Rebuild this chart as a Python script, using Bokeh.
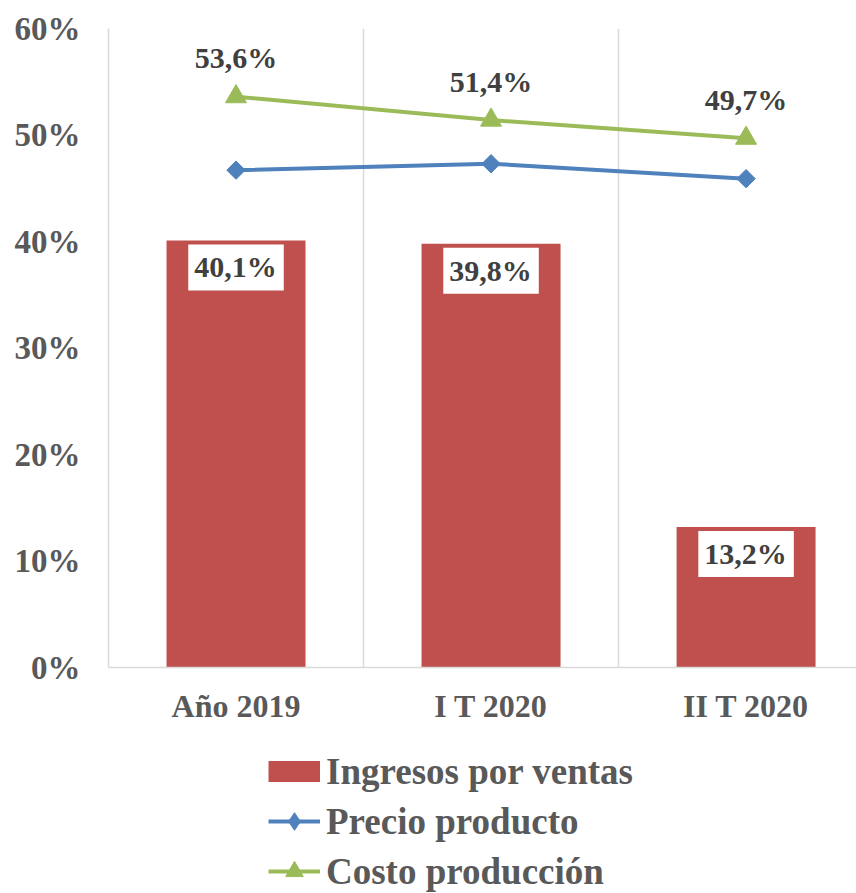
import numpy as np
from bokeh.plotting import figure
from bokeh.layouts import column
from bokeh.models import Range1d, FixedTicker, PrintfTickFormatter, Legend, LegendItem
from bokeh.core.properties import value
from bokeh.embed import file_html
from bokeh.resources import INLINE

categories = ["Año 2019", "I T 2020", "II T 2020"]
ingresos = [40.1, 39.8, 13.2]
precio = [46.7, 47.3, 45.9]
costo = [53.6, 51.4, 49.7]
y_ticks = [0, 10, 20, 30, 40, 50, 60]
series_names = ["Ingresos por ventas", "Precio producto", "Costo producción"]

RED = "#C0504D"
BLUE = "#4F81BD"
GREEN = "#9BBB59"
GRID = "#D9D9D9"
TICK = "#595959"
LABEL = "#404040"
FONT = "Liberation Serif"

x = [i + 0.5 for i in range(len(categories))]


def fmt(v):
    return f"{v:.1f}".replace(".", ",") + "%"


MAIN_H = 729
p = figure(width=856, height=MAIN_H, output_backend="svg", toolbar_location=None,
           x_range=Range1d(0, 2.933), y_range=Range1d(0, 60),
           min_border_left=108, min_border_right=0, min_border_top=28,
           min_border_bottom=MAIN_H - 667)
p.outline_line_color = None
p.ygrid.visible = False
p.xgrid.ticker = FixedTicker(ticks=[0, 1, 2, 3])
p.xgrid.grid_line_color = GRID
p.xgrid.grid_line_width = 1.5

p.vbar(x=x, top=ingresos, width=0.545, fill_color=RED, line_color=None)
p.line(x, precio, line_width=4, line_color=BLUE)
p.scatter(x, precio, marker="square", angle=np.pi / 4, size=13,
          fill_color=BLUE, line_color=BLUE)
p.line(x, costo, line_width=4, line_color=GREEN)
p.scatter(x, costo, marker="triangle", size=21, fill_color=GREEN, line_color=GREEN)

# bar labels with white boxes
p.text(x=x, y=ingresos, text=[fmt(v) for v in ingresos], y_offset=27,
       text_align="center", text_baseline="middle",
       text_font=value(FONT), text_font_style="bold", text_font_size="30px",
       text_color=LABEL, background_fill_color="white", padding=[6, 7, 6, 7])
# costo labels above markers
p.text(x=x, y=costo, text=[fmt(v) for v in costo], y_offset=-39,
       text_align="center", text_baseline="middle",
       text_font=value(FONT), text_font_style="bold", text_font_size="30px",
       text_color=LABEL)

# axes
p.yaxis.ticker = FixedTicker(ticks=y_ticks)
p.yaxis.formatter = PrintfTickFormatter(format="%d%%")
p.yaxis.axis_line_color = GRID
p.yaxis.axis_line_width = 1.5
p.yaxis.major_tick_line_color = None
p.yaxis.minor_tick_line_color = None
p.yaxis.major_label_standoff = 22
p.yaxis.major_label_text_font_size = "33px"

p.xaxis.ticker = FixedTicker(ticks=x)
p.xaxis.major_label_overrides = {xi: c for xi, c in zip(x, categories)}
p.xaxis.axis_line_color = GRID
p.xaxis.axis_line_width = 1.5
p.xaxis.major_tick_line_color = None
p.xaxis.minor_tick_line_color = None
p.xaxis.major_label_standoff = 14
p.xaxis.major_label_text_font_size = "32px"

for ax in (p.xaxis[0], p.yaxis[0]):
    ax.major_label_text_font = FONT
    ax.major_label_text_font_style = "bold"
    ax.major_label_text_color = TICK

# legend strip below the chart (series drawn out of its visible range,
# only their legend swatches show)
LEG_H = 893 - MAIN_H
pl = figure(width=856, height=LEG_H, output_backend="svg", toolbar_location=None,
            x_range=Range1d(0, 1), y_range=Range1d(0, 1),
            x_axis_location=None, y_axis_location=None,
            min_border=0, min_border_left=108)
pl.outline_line_color = None
pl.grid.visible = False
g1 = pl.line(x, ingresos, line_width=21, line_color=RED)
g2a = pl.line(x, precio, line_width=4, line_color=BLUE)
g2b = pl.scatter(x, precio, marker="diamond", fill_color=BLUE, line_color=BLUE)
g3a = pl.line(x, costo, line_width=4, line_color=GREEN)
g3b = pl.scatter(x, costo, marker="triangle", fill_color=GREEN, line_color=GREEN)

legend = Legend(items=[
    LegendItem(label=series_names[0], renderers=[g1]),
    LegendItem(label=series_names[1], renderers=[g2a, g2b]),
    LegendItem(label=series_names[2], renderers=[g3a, g3b]),
], orientation="vertical", location=(160, 0))
legend.label_text_font = FONT
legend.label_text_font_style = "bold"
legend.label_text_font_size = "37px"
legend.label_text_color = TICK
legend.border_line_color = None
legend.background_fill_alpha = 0
legend.glyph_width = 52
legend.glyph_height = 44
legend.label_standoff = 6
legend.spacing = 6
legend.padding = 0
legend.margin = 0
pl.add_layout(legend)

open("out.html", "w").write(file_html(column(p, pl, spacing=0), INLINE))
